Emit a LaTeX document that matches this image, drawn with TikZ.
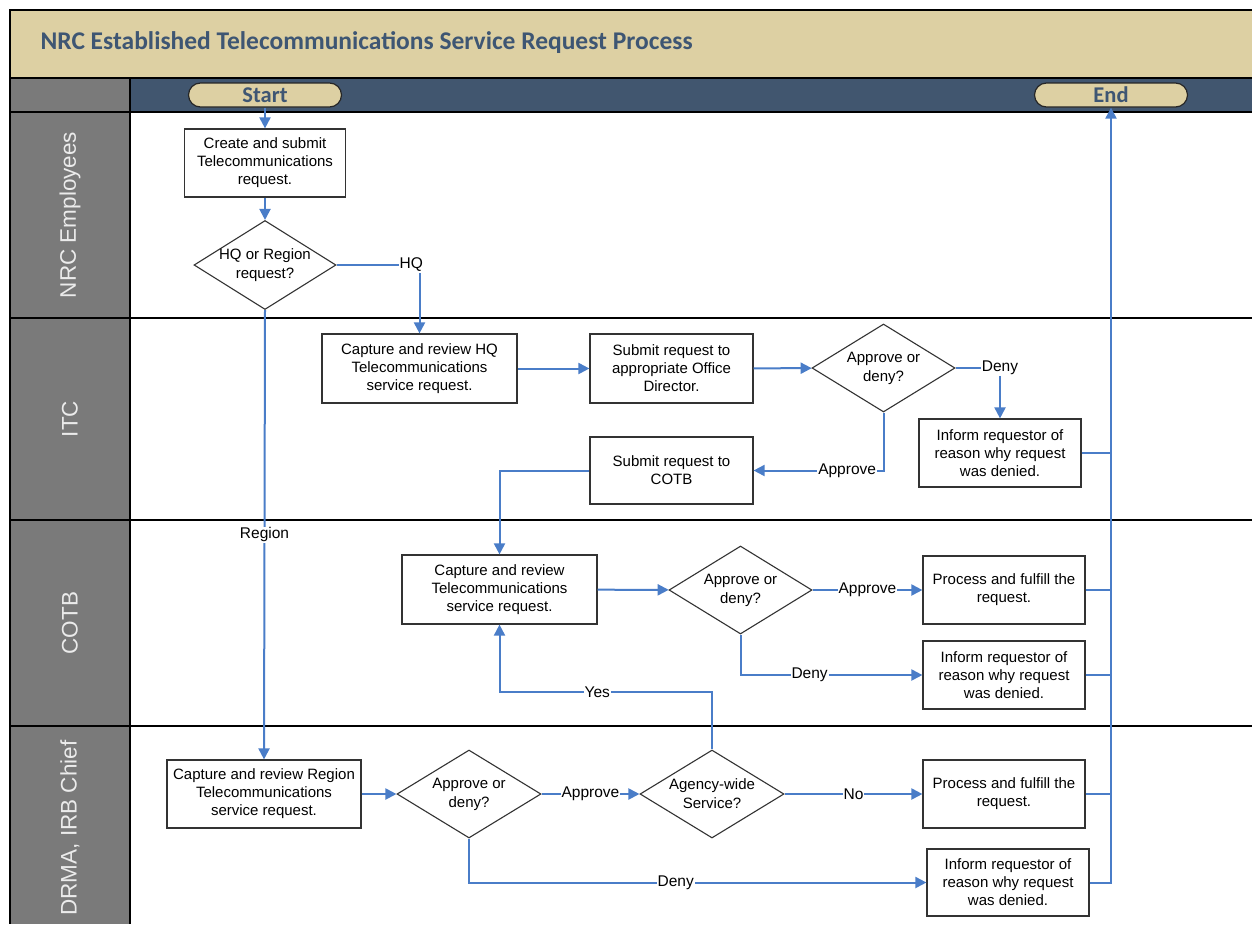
\documentclass[tikz,border=0pt]{standalone}
\usepackage{fontspec}
\setmainfont{Liberation Sans}
\newfontfamily\titlefont{Carlito}
\usetikzlibrary{arrows.meta,shapes.geometric}
\definecolor{tanfill}{HTML}{DDD0A3}
\definecolor{hdrblue}{HTML}{41566F}
\definecolor{lanegray}{HTML}{7A7A7A}
\definecolor{flowblue}{HTML}{4A7DC8}
\definecolor{titleblue}{HTML}{3E5673}
\begin{document}
\begin{tikzpicture}[x=1pt,y=-1pt,
  box/.style={draw=black!80,line width=1.2pt,fill=white,align=center,inner sep=0pt,
    font=\fontsize{15}{18}\selectfont},
  dia/.style={diamond,draw=black!80,line width=1.1pt,fill=white,inner sep=0pt,
    minimum width=143pt,minimum height=88pt},
  dtext/.style={align=center,font=\fontsize{15}{19}\selectfont,inner sep=0pt},
  flowline/.style={draw=flowblue,line width=2pt},
  arr/.style={flowline,-{Triangle[length=11pt,width=11pt]}},
  lbl/.style={fill=white,inner sep=1pt,font=\fontsize{15.5}{17}\selectfont},
  term/.style={draw=black!85,line width=1.2pt,fill=tanfill,rounded corners=12pt,
    minimum width=153pt,minimum height=24pt,inner sep=0pt,text=titleblue,
    font=\titlefont\bfseries\fontsize{22.5}{23}\selectfont},
  lanelabel/.style={rotate=90,text=white!92!black,font=\fontsize{22.5}{24}\selectfont},
  sep/.style={draw=black,line width=1.3pt}
]
\useasboundingbox (0,0) rectangle (1252,924);
\fill[white] (0,0) rectangle (1252,924);
% title band and header
\fill[tanfill] (10,10) rectangle (1252,78);
\fill[lanegray] (10,78) rectangle (130,112);
\fill[hdrblue] (130,78) rectangle (1252,112);
\fill[lanegray] (10,112) rectangle (130,924);
\draw[sep] (1252,10) -- (10,10) -- (10,924);
\draw[sep] (10,78) -- (1252,78);
\draw[sep] (10,112) -- (1252,112);
\draw[sep] (10,318) -- (1252,318);
\draw[sep] (10,520) -- (1252,520);
\draw[sep] (10,726) -- (1252,726);
\draw[sep] (130,78) -- (130,924);

\node[anchor=west,text=titleblue,font=\titlefont\bfseries\fontsize{25.5}{28}\selectfont] (title) at (37,43) {NRC Established Telecommunications Service Request Process};

\node[lanelabel] (lane1) at (70,215) {NRC Employees};
\node[lanelabel] (lane2) at (70,419) {ITC};
\node[lanelabel] (lane3) at (70,623) {COTB};
\node[lanelabel] (lane4) at (70,828) {DRMA, IRB Chief};

\node[term] (start) at (265,95) {Start};
\node[term] (end) at (1111,95) {End};

% boxes
\node[box,minimum width=161pt,minimum height=68pt] (create) at (265,163) {Create and submit\\Telecommunications\\request.};
\node[box,minimum width=195pt,minimum height=69pt] (caphq) at (419.5,368.5) {Capture and review HQ\\Telecommunications\\service request.};
\node[box,minimum width=163pt,minimum height=69pt] (subod) at (671.5,368.5) {Submit request to\\appropriate Office\\Director.};
\node[box,minimum width=162pt,minimum height=68pt] (inform1) at (1000,453) {Inform requestor of\\reason why request\\was denied.};
\node[box,minimum width=163pt,minimum height=67pt] (subcotb) at (671.5,470.5) {Submit request to\\COTB};
\node[box,minimum width=195pt,minimum height=69pt] (capcotb) at (499.5,589.5) {Capture and review\\Telecommunications\\service request.};
\node[box,minimum width=162pt,minimum height=68pt] (proc1) at (1004,590) {Process and fulfill the\\request.};
\node[box,minimum width=162pt,minimum height=68pt] (inform2) at (1004,675) {Inform requestor of\\reason why request\\was denied.};
\node[box,minimum width=194pt,minimum height=68pt] (capreg) at (264,794) {Capture and review Region\\Telecommunications\\service request.};
\node[box,minimum width=162pt,minimum height=68pt] (proc2) at (1004,794) {Process and fulfill the\\request.};
\node[box,minimum width=162pt,minimum height=67pt] (inform3) at (1008,882.5) {Inform requestor of\\reason why request\\was denied.};

% diamonds
\node[dia,minimum width=142pt,minimum height=89pt,label={[dtext]center:{HQ or Region\\request?}}] (hqd) at (265,265) {};
\node[dia,label={[dtext]center:{Approve or\\deny?}}] (itcd) at (883.5,368) {};
\node[dia,label={[dtext]center:{Approve or\\deny?}}] (cotbd) at (740.5,590) {};
\node[dia,minimum width=144pt,label={[dtext]center:{Approve or\\deny?}}] (drmad) at (469,794) {};
\node[dia,minimum width=144pt,label={[dtext]center:{Agency-wide\\Service?}}] (agency) at (712,794) {};

\coordinate (yesturn) at (0,692);

% connectors
\draw[arr] (start) -- (create);
\draw[arr] (create) -- (hqd);
\draw[arr] (hqd.east) -| node[lbl,pos=0.45]{HQ} (caphq.north);
\draw[arr] (caphq) -- (subod);
\draw[arr] (subod) -- (itcd);
\draw[arr] (itcd.east) -| node[lbl,pos=0.5]{Deny} (inform1.north);
\draw[arr] (itcd.south) |- node[lbl,pos=0.64]{Approve} (subcotb.east);
\draw[arr] (subcotb.west) -| (capcotb.north);
\draw[arr] (capcotb) -- (cotbd);
\draw[arr] (cotbd) -- node[lbl]{Approve} (proc1);
\draw[arr] (cotbd.south) |- node[lbl,pos=0.69]{Deny} (inform2.west);
\draw[arr] (agency.north) -- (agency.north |- yesturn) -| node[lbl,pos=0.27]{Yes} (capcotb.south);
\draw[arr] (hqd.south) -- node[lbl]{Region} (capreg.north);
\draw[arr] (capreg) -- (drmad);
\draw[arr] (drmad) -- node[lbl]{Approve} (agency);
\draw[arr] (agency) -- node[lbl]{No} (proc2);
\draw[arr] (drmad.south) |- node[lbl,pos=0.726]{Deny} (inform3.west);
\draw[arr] (inform3.east) -| (end.south);
\draw[flowline] (inform1.east) -- (inform1.east -| end.south);
\draw[flowline] (proc1.east) -- (proc1.east -| end.south);
\draw[flowline] (inform2.east) -- (inform2.east -| end.south);
\draw[flowline] (proc2.east) -- (proc2.east -| end.south);
\end{tikzpicture}
\end{document}
